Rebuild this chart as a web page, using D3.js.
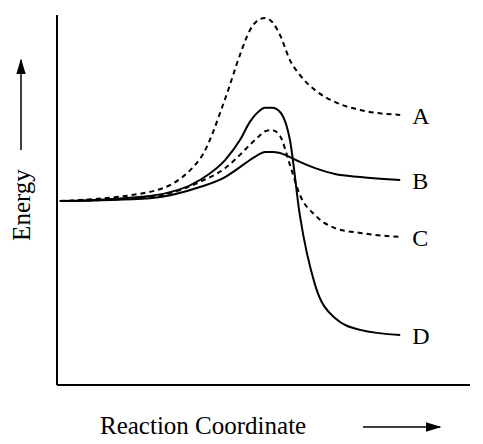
<!DOCTYPE html>
<html><head><meta charset="utf-8">
<script src="https://cdn.jsdelivr.net/npm/d3@7"></script>
<style>body{margin:0;background:#fff}</style></head>
<body><svg id="c" width="483" height="444"></svg>
<script>
const xs = [0.7,22.5,34.6,40.7,44.3,46.7,48.7,50.4,52.1,54.0,56.4,58.8,62.5,67.3,73.4,83.1];
const seriesA = [49.7,52.2,61.1,77.3,89.2,95.9,98.6,99.2,98.1,94.6,87.8,83.8,79.7,76.5,74.3,73.0];
const seriesB = [49.7,50.5,53.5,56.2,58.9,60.8,62.2,63.0,63.0,62.7,61.6,60.3,58.6,57.0,56.2,55.4];
const seriesC = [49.7,50.8,54.9,58.6,62.2,64.9,67.0,68.6,68.9,67.3,59.5,51.4,45.9,42.4,41.1,40.0];
const seriesD = [49.7,51.1,55.4,60.8,66.2,71.1,73.8,74.9,74.9,73.8,66.2,45.9,27.0,18.1,14.9,13.5];
const labels = ["A","B","C","D"];
const dashed = [true,false,true,false];
const svg = d3.select("#c");
const x = d3.scaleLinear().domain([0,100]).range([57,470]);
const y = d3.scaleLinear().domain([0,100]).range([385,15]);
svg.append("line").attr("x1",x(0)).attr("x2",x(0)).attr("y1",y(0)).attr("y2",y(100)).attr("stroke","#000").attr("stroke-width",2);
svg.append("line").attr("x1",x(0)).attr("x2",x(100)).attr("y1",y(0)).attr("y2",y(0)).attr("stroke","#000").attr("stroke-width",2);
const line = d3.line().x((d,i)=>x(xs[i])).y(d=>y(d)).curve(d3.curveMonotoneX);
const f="Liberation Serif";
[seriesA,seriesB,seriesC,seriesD].forEach((s,k)=>{
  svg.append("path").attr("d",line(s)).attr("fill","none").attr("stroke","#000").attr("stroke-width",2)
    .attr("stroke-dasharray",dashed[k]?"5,4":null);
  svg.append("text").attr("x",x(xs[xs.length-1])+12).attr("y",y(s[s.length-1])+9)
    .attr("font-family",f).attr("font-size",24).text(labels[k]);
});
svg.append("text").attr("transform","translate(30,205) rotate(-90)").attr("text-anchor","middle")
  .attr("font-family",f).attr("font-size",25).text("Energy");
svg.append("defs").append("marker").attr("id","ah").attr("viewBox","0 0 10 6").attr("refX",9).attr("refY",3)
  .attr("markerWidth",16).attr("markerHeight",10).attr("orient","auto").attr("markerUnits","userSpaceOnUse")
  .append("path").attr("d","M0,0L10,3L0,6Z");
svg.append("line").attr("x1",21).attr("x2",21).attr("y1",150).attr("y2",60).attr("stroke","#000").attr("stroke-width",1.5).attr("marker-end","url(#ah)");
svg.append("text").attr("x",100).attr("y",434).attr("font-family",f).attr("font-size",25).text("Reaction Coordinate");
svg.append("line").attr("x1",363).attr("x2",440).attr("y1",427).attr("y2",427).attr("stroke","#000").attr("stroke-width",1.5).attr("marker-end","url(#ah)");
</script></body></html>
